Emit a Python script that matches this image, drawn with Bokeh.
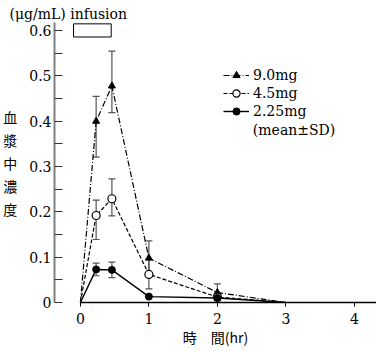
from bokeh.plotting import figure
from bokeh.models import (ColumnDataSource, Whisker, TeeHead, Label, Legend, LegendItem,
                          FixedTicker, CustomJSTickFormatter, Range1d, Title)
from bokeh.embed import file_html
from bokeh.resources import INLINE

# ---- data ----
t = [0, 0.23, 0.46, 1, 2, 3]
c90 = [0, 0.400, 0.478, 0.098, 0.022, 0]
c45 = [0, 0.192, 0.229, 0.062, 0.012, 0]
c225 = [0, 0.073, 0.072, 0.013, 0.010, 0]

# error bars (time, lower, upper)
e90_t = [0.23, 0.46, 1, 2]
e90_lo = [0.321, 0.419, 0.060, 0.004]
e90_hi = [0.455, 0.555, 0.136, 0.041]
e45_t = [0.23, 0.46, 1]
e45_lo = [0.139, 0.191, 0.030]
e45_hi = [0.226, 0.273, 0.095]
e225_t = [0.23, 0.46]
e225_lo = [0.059, 0.055]
e225_hi = [0.087, 0.089]

x_ticks = [0, 1, 2, 3, 4]
y_ticks = [0, 0.1, 0.2, 0.3, 0.4, 0.5, 0.6]
y_minor = [0.05, 0.15, 0.25, 0.35, 0.45, 0.55]

labels = ["9.0mg", "4.5mg", "2.25mg"]
ytitle = "血\n漿\n中\n濃\n度"
xtitle = "時\u3000間(hr)"
header_text = "(μg/mL)  infusion"
note_text = "(mean\u00b1SD)"
infusion_span = (-0.10, 0.45)
infusion_y = (0.586, 0.615)

SERIF = "DejaVu Serif"
CJK = "Noto Sans CJK JP"

p = figure(width=376, height=351, output_backend="svg", toolbar_location=None,
           x_range=Range1d(-0.378, 4.323), y_range=Range1d(0, 0.618),
           min_border_left=53, min_border_right=0, min_border_top=22, min_border_bottom=49)
p.outline_line_color = None
p.xgrid.visible = False
p.ygrid.visible = False
p.background_fill_color = "white"

p.add_layout(Title(text=header_text, align="left", offset=-45, standoff=1,
                   text_font=SERIF, text_font_size="14px", text_font_style="normal",
                   text_color="black"), "above")

# axes
xa = p.xaxis[0]
xa.ticker = FixedTicker(ticks=x_ticks)
xa.bounds = (0, 4.323)
xa.axis_line_color = "black"
xa.axis_line_width = 1.3
xa.major_tick_out = 4
xa.major_tick_in = 0
xa.minor_tick_out = 0
xa.minor_tick_in = 0
xa.major_tick_line_color = "black"
xa.major_label_text_font = SERIF
xa.major_label_text_font_size = "14px"
xa.major_label_text_color = "black"
xa.major_label_standoff = 6
xa.axis_label = xtitle
xa.axis_label_text_font = CJK
xa.axis_label_text_font_style = "normal"
xa.axis_label_text_font_size = "14px"
xa.axis_label_text_color = "black"
xa.axis_label_standoff = 0

ya = p.yaxis[0]
ya.ticker = FixedTicker(ticks=y_ticks, minor_ticks=y_minor)
ya.bounds = (0, 0.618)
ya.axis_line_color = "#808080"
ya.axis_line_width = 2
ya.major_tick_out = 0
ya.major_tick_in = 8
ya.minor_tick_out = 0
ya.minor_tick_in = 8
ya.major_tick_line_color = "#333333"
ya.minor_tick_line_color = "#333333"
ya.major_label_text_font = SERIF
ya.major_label_text_font_size = "14px"
ya.major_label_text_color = "black"
ya.major_label_standoff = 3
ya.formatter = CustomJSTickFormatter(code="return tick == 0 ? '0' : tick.toFixed(1);")
ya.axis_label = ytitle
ya.axis_label_orientation = "horizontal"
ya.axis_label_text_font = CJK
ya.axis_label_text_font_style = "normal"
ya.axis_label_text_font_size = "14px"
ya.axis_label_text_line_height = 1.15
ya.axis_label_text_color = "black"
ya.axis_label_standoff = 9

# infusion bar
p.quad(left=[infusion_span[0]], right=[infusion_span[1]], bottom=[infusion_y[0]], top=[infusion_y[1]],
       fill_color="white", line_color="black", line_width=1)

# error bars
def add_whisker(tt, lo, hi):
    src = ColumnDataSource(dict(base=tt, lower=lo, upper=hi))
    w = Whisker(source=src, base="base", lower="lower", upper="upper", dimension="height",
                line_color="#555555", line_width=1.2,
                upper_head=TeeHead(size=7, line_color="#555555", line_width=1.2),
                lower_head=TeeHead(size=7, line_color="#555555", line_width=1.2))
    p.add_layout(w)

add_whisker(e90_t, e90_lo, e90_hi)
add_whisker(e45_t, e45_lo, e45_hi)
add_whisker(e225_t, e225_lo, e225_hi)

# series
l90 = p.line(t, c90, line_color="black", line_width=1.2, line_dash="6 2 1 2")
m90 = p.scatter(t[1:5], c90[1:5], marker="triangle", size=7, fill_color="black", line_color="black")
l45 = p.line(t, c45, line_color="black", line_width=1.2, line_dash="4 2")
m45 = p.scatter(t[1:5], c45[1:5], marker="circle", size=8, fill_color="white", line_color="black", line_width=1.2)
l225 = p.line(t, c225, line_color="black", line_width=1.4)
m225 = p.scatter(t[1:5], c225[1:5], marker="circle", size=7, fill_color="black", line_color="black")

legend = Legend(items=[LegendItem(label=labels[0], renderers=[l90, m90]),
                       LegendItem(label=labels[1], renderers=[l45, m45]),
                       LegendItem(label=labels[2], renderers=[l225, m225])],
                location=(169, 182), orientation="vertical",
                glyph_width=26, glyph_height=18, label_height=18, label_standoff=4,
                spacing=0, padding=0, margin=0,
                border_line_color=None, background_fill_alpha=0,
                label_text_font=SERIF, label_text_font_size="14px", label_text_color="black")
p.add_layout(legend)

p.add_layout(Label(x=2.518, y=0.380, text=note_text, text_font=SERIF, text_font_size="14px",
                   text_baseline="middle", text_align="left", text_color="black"))

open("out.html", "w").write(file_html(p, INLINE))
